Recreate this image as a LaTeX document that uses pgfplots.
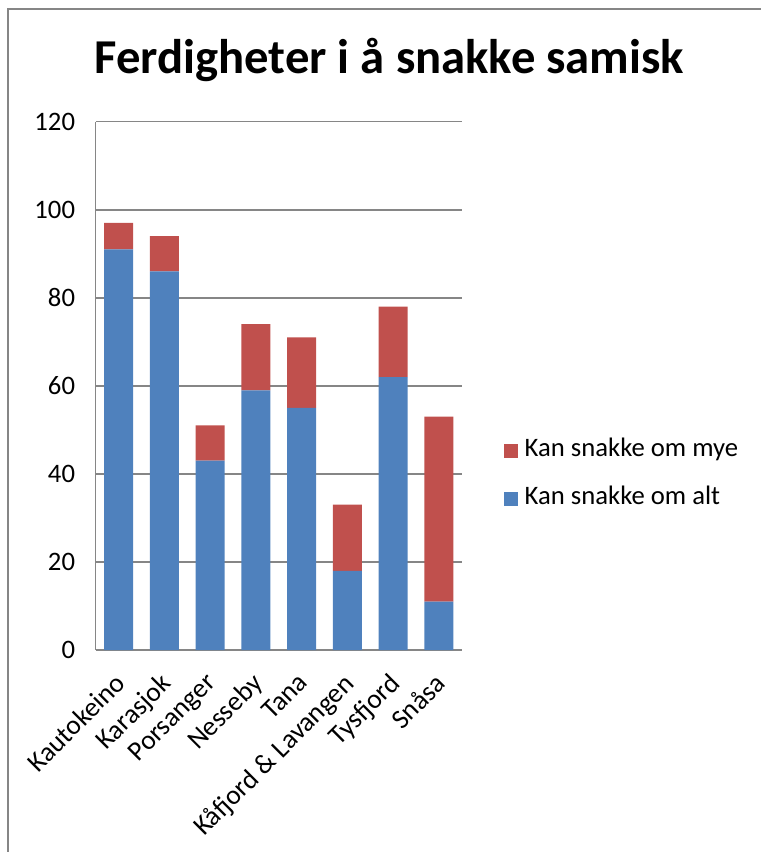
\documentclass[border=0pt]{standalone}
\usepackage{fontspec}
\setmainfont{Carlito}
\usepackage{pgfplots}
\pgfplotsset{compat=1.18}
\definecolor{xlblue}{HTML}{4F81BD}
\definecolor{xlred}{HTML}{C0504D}
\definecolor{xlgrid}{HTML}{868686}

% values
\pgfplotstableread{
x alt mye
0 91 6
1 86 8
2 43 8
3 59 15
4 55 16
5 18 15
6 62 16
7 11 42
}\samisk

\begin{document}
\begin{tikzpicture}
% page = 761x852 px at 0.75pt per px
\useasboundingbox (0,0) rectangle (570.75pt,-639pt);
% chart frame (only left and top edges are visible)
\draw[xlgrid, line width=1.5pt] (6pt,-640pt) -- (6pt,-6.75pt) -- (571pt,-6.75pt);
\node[font=\fontsize{36.5}{40}\selectfont\bfseries, anchor=base] at (292.1pt,-55.5pt)
  {Ferdigheter i å snakke samisk};
\begin{axis}[
  at={(71.8pt,-487.5pt)}, anchor=south west,
  scale only axis,
  width=274.5pt, height=396.2pt,
  ybar stacked,
  bar width=0.635,
  xmin=-0.5, xmax=7.5,
  ymin=0, ymax=120,
  ytick={0,20,...,120},
  xtick={0,...,7},
  xticklabels={Kautokeino,Karasjok,Porsanger,Nesseby,Tana,Kåfjord \& Lavangen,Tysfjord,Snåsa},
  major tick length=0pt,
  ymajorgrids,
  grid style={xlgrid, line width=1.1pt},
  axis line style={xlgrid, line width=1.1pt},
  axis x line*=bottom,
  axis y line*=left,
  y axis line style={-},
  x axis line style={-},
  /pgf/number format/assume math mode=true,
  tick label style={font=\fontsize{20}{24}\selectfont},
  yticklabel style={xshift=-12pt},
  xticklabel style={xshift=-4pt, yshift=-16pt, rotate=45, anchor=north east, inner sep=0pt,
    font=\fontsize{20.5}{24}\selectfont},
  legend style={at={(1.104,0.332)}, anchor=west, draw=none, fill=none,
    font=\fontsize{20}{24}\selectfont, row sep=19pt,
    nodes={inner sep=0pt, text height=13pt, text depth=4pt}},
  legend cell align=left,
  reverse legend,
  legend image code/.code={\fill[#1] (0pt,-5.25pt) rectangle (10.5pt,5.25pt); \path (15.5pt,0pt);},
  clip=false,
]
\addplot[fill=xlblue, draw=none] table[x=x, y=alt]{\samisk};
\addlegendentry{Kan snakke om alt}
\addplot[fill=xlred, draw=none] table[x=x, y=mye]{\samisk};
\addlegendentry{Kan snakke om mye}
\end{axis}
\end{tikzpicture}
\end{document}
